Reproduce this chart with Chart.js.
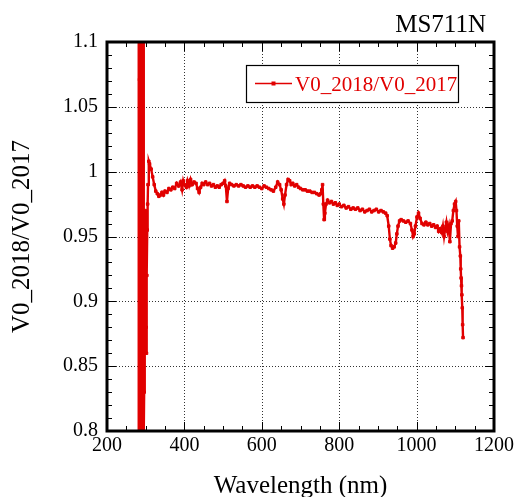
<!DOCTYPE html>
<html>
<head>
<meta charset="utf-8">
<script src="https://cdn.jsdelivr.net/npm/chart.js@4/dist/chart.umd.min.js"></script>
<style>
  body { margin: 0; background: #fff; }
</style>
</head>
<body>
<canvas id="ratioChart" width="517" height="497"></canvas>
<script>
const station = "MS711N";
const seriesLabel = "V0_2018/V0_2017";
const xTitle = "Wavelength (nm)";
const yTitle = "V0_2018/V0_2017";

const xMajor = [200, 400, 600, 800, 1000, 1200];
const yMajor = [0.8, 0.85, 0.9, 0.95, 1, 1.05, 1.1];

// UV end (noisy), visible plateau, NIR part with O2 / H2O bands
const wavelength = [
  281, 282, 283, 284, 285, 286, 287, 288, 289, 290, 291, 292, 293, 294, 295,
  296, 297, 298, 299, 300, 301, 302, 303, 304, 305, 306, 308,
  310, 314, 318, 322, 326, 330, 334, 338, 342, 346, 350, 355, 360, 365, 370,
  375, 380, 385, 390, 394, 397, 400, 405, 408, 412, 416, 420, 425, 430, 434,
  438, 442, 446, 450, 455, 460, 465, 470, 475, 480, 485, 490, 495, 500, 504,
  507, 510, 513, 517, 522, 528, 534, 540, 546, 552, 558, 564, 570, 576, 582,
  588, 594, 600, 606, 612, 618, 624, 630, 636, 641, 646, 650, 654, 657, 660,
  664, 668, 672, 676, 680, 685, 690, 695, 700, 706, 712, 718, 724, 730, 736,
  742, 748, 752, 755, 757, 759, 761, 763, 766, 770,
  775, 780, 785, 790, 795, 800, 806, 812, 818, 824, 830, 836, 842, 848, 854,
  860, 866, 872, 878, 884, 890, 896, 902, 908, 914, 920, 924, 928, 931, 934,
  938, 942, 946, 949, 952, 956, 960, 966, 972, 978, 984, 988, 991, 994, 997,
  1001, 1005, 1009, 1014, 1019, 1024, 1029, 1034, 1039, 1044, 1049, 1053, 1057,
  1061, 1065, 1068, 1071, 1074, 1077, 1080, 1083, 1086, 1089, 1092, 1095, 1098,
  1101, 1103, 1105, 1107, 1109, 1111, 1113, 1114, 1115, 1116, 1117, 1118, 1119, 1120
];
const ratio = [
  0.6, 1.4, 0.7, 1.071, 1.3, 0.888, 1.057, 0.55, 1.048, 1.35, 0.7, 1.25, 0.75, 1.2, 0.8,
  0.83, 0.9, 0.95, 0.97, 0.92, 0.88, 0.86, 0.92, 0.955, 0.975, 0.99, 1.008,
  1.006, 1.002, 0.996, 0.99, 0.985, 0.983, 0.981, 0.982, 0.984, 0.982, 0.985, 0.984, 0.987, 0.986, 0.988,
  0.987, 0.991, 0.989, 0.992, 0.986, 0.993, 0.99, 0.988, 0.993, 0.989, 0.994, 0.99, 0.992, 0.991, 0.987,
  0.984, 0.988, 0.991, 0.99, 0.992, 0.99, 0.991, 0.989, 0.99, 0.988, 0.989, 0.988, 0.99, 0.991, 0.993,
  0.989, 0.977, 0.987, 0.991, 0.99, 0.989, 0.99, 0.989, 0.99, 0.989, 0.988, 0.989, 0.988, 0.989, 0.988,
  0.989, 0.988, 0.987, 0.989, 0.988, 0.987, 0.986, 0.985, 0.988, 0.992, 0.99, 0.986, 0.979, 0.975, 0.982,
  0.99, 0.994, 0.993, 0.99, 0.991, 0.989, 0.99, 0.988, 0.987, 0.986, 0.986, 0.985, 0.985, 0.984, 0.984,
  0.983, 0.982, 0.983, 0.986, 0.99, 0.975, 0.963, 0.968, 0.975, 0.978,
  0.976, 0.977, 0.975, 0.976, 0.974, 0.975, 0.973, 0.974, 0.972, 0.973, 0.971, 0.972, 0.971, 0.972, 0.97,
  0.971, 0.969, 0.97, 0.971, 0.969, 0.97, 0.971, 0.969, 0.97, 0.969, 0.968, 0.966, 0.958, 0.948, 0.943,
  0.941, 0.942, 0.945, 0.952, 0.958, 0.962, 0.963, 0.962, 0.961, 0.962, 0.96, 0.955, 0.95, 0.952, 0.958,
  0.965, 0.968, 0.964, 0.96, 0.959, 0.961, 0.959, 0.96, 0.958, 0.959, 0.957, 0.958, 0.954,
  0.956, 0.953, 0.958, 0.95, 0.956, 0.961, 0.954, 0.958, 0.946, 0.96, 0.962, 0.97, 0.975,
  0.977, 0.97, 0.958, 0.95, 0.962, 0.942, 0.935, 0.925, 0.918, 0.912, 0.905, 0.895, 0.882, 0.872
];

const lineColor = "#e10000";
const serif = "'Liberation Serif', 'Times New Roman', serif";

// dotted grid under the data, thick frame and inward ticks on all sides over it
const frameTicks = {
  id: "frameTicks",
  beforeDatasetsDraw(chart) {
    const { ctx, chartArea: a, scales: { x, y } } = chart;
    ctx.save();
    ctx.strokeStyle = "#333";
    ctx.lineWidth = 1;
    ctx.setLineDash([1, 2]);
    ctx.beginPath();
    xMajor.slice(1, -1).forEach(v => {
      const px = Math.round(x.getPixelForValue(v)) + 0.5;
      ctx.moveTo(px, a.top); ctx.lineTo(px, a.bottom);
    });
    yMajor.slice(1, -1).forEach(v => {
      const py = Math.round(y.getPixelForValue(v)) + 0.5;
      ctx.moveTo(a.left, py); ctx.lineTo(a.right, py);
    });
    ctx.stroke();
    ctx.restore();
  },
  afterDatasetsDraw(chart) {
    const { ctx, chartArea: a, scales: { x, y } } = chart;
    ctx.save();
    ctx.strokeStyle = "#000";
    ctx.lineWidth = 1;
    ctx.beginPath();
    for (let v = 200; v <= 1200; v += 50) {
      const len = v % 200 === 0 ? 9 : 5;
      const px = Math.round(x.getPixelForValue(v)) + 0.5;
      ctx.moveTo(px, a.bottom); ctx.lineTo(px, a.bottom - len);
      ctx.moveTo(px, a.top); ctx.lineTo(px, a.top + len);
    }
    for (let i = 0; i <= 30; i++) {
      const len = i % 5 === 0 ? 9 : 5;
      const py = Math.round(y.getPixelForValue(0.8 + i * 0.01)) + 0.5;
      ctx.moveTo(a.left, py); ctx.lineTo(a.left + len, py);
      ctx.moveTo(a.right, py); ctx.lineTo(a.right - len, py);
    }
    ctx.stroke();
    ctx.lineWidth = 3;
    ctx.strokeRect(a.left, a.top, a.right - a.left, a.bottom - a.top);
    ctx.restore();
  },
  afterDraw(chart) {
    const { ctx, chartArea: a } = chart;
    const ds = chart.data.datasets[0];
    ctx.save();
    // station name, top right
    ctx.font = "25px " + serif;
    ctx.fillStyle = "#000";
    ctx.textAlign = "right";
    ctx.textBaseline = "alphabetic";
    ctx.fillText(station, a.right - 8, 32);
    // boxed legend inside the plot
    const lx = a.left + 139, ly = a.top + 23, lw = 212, lh = 37;
    ctx.fillStyle = "#fff";
    ctx.fillRect(lx, ly, lw, lh);
    ctx.strokeStyle = "#000";
    ctx.lineWidth = 1.2;
    ctx.strokeRect(lx + 0.5, ly + 0.5, lw, lh);
    const my = ly + lh / 2;
    ctx.strokeStyle = ds.borderColor;
    ctx.lineWidth = 1.5;
    ctx.beginPath();
    ctx.moveTo(lx + 9, my); ctx.lineTo(lx + 46, my);
    ctx.stroke();
    ctx.fillStyle = ds.borderColor;
    ctx.fillRect(lx + 25.5, my - 2, 4, 4);
    ctx.font = "21px " + serif;
    ctx.textAlign = "left";
    ctx.fillText(ds.label, lx + 49, my + 7);
    ctx.restore();
  }
};

new Chart(document.getElementById("ratioChart"), {
  type: "line",
  data: {
    datasets: [
      {
        label: seriesLabel,
        data: wavelength.map((w, i) => ({ x: w, y: ratio[i] })),
        borderColor: lineColor,
        backgroundColor: lineColor,
        borderWidth: 2.4,
        pointStyle: "rect",
        pointRadius: 1.8,
        pointBorderWidth: 1,
        pointHoverRadius: 1.8,
        fill: false,
        tension: 0,
      },
    ],
  },
  options: {
    responsive: false,
    devicePixelRatio: 1,
    animation: false,
    layout: { padding: { top: 42, right: 22, left: 0, bottom: 0 } },
    plugins: {
      legend: { display: false },
      tooltip: { enabled: false },
    },
    scales: {
      x: {
        type: "linear",
        min: 200,
        max: 1200,
        afterBuildTicks: s => { s.ticks = xMajor.map(v => ({ value: v })); },
        afterFit: s => { s.height = 66; },
        grid: { display: false, drawTicks: false },
        border: { display: false },
        ticks: {
          padding: 3,
          color: "#000",
          font: { family: serif, size: 20 },
          maxRotation: 0,
          callback: v => String(v),
        },
        title: {
          display: true,
          text: xTitle,
          color: "#000",
          font: { family: serif, size: 25 },
          padding: { top: 0, bottom: -4 },
        },
      },
      y: {
        type: "linear",
        min: 0.8,
        max: 1.1,
        afterBuildTicks: s => { s.ticks = yMajor.map(v => ({ value: v })); },
        afterFit: s => { s.width = 107; },
        grid: { display: false, drawTicks: false },
        border: { display: false },
        ticks: {
          padding: 9,
          color: "#000",
          font: { family: serif, size: 20 },
          callback: v => String(Number(v.toFixed(2))),
        },
        title: {
          display: true,
          text: yTitle,
          color: "#000",
          font: { family: serif, size: 25 },
          padding: { top: 7, bottom: 0 },
        },
      },
    },
  },
  plugins: [frameTicks],
});
</script>
</body>
</html>
